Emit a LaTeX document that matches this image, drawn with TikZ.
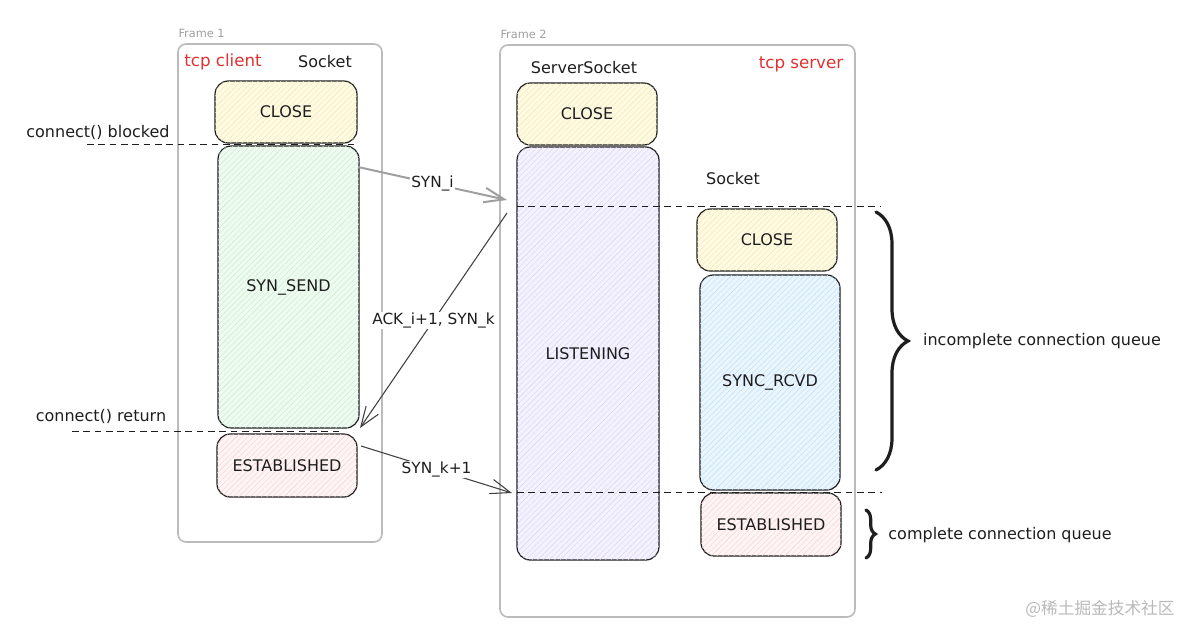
\documentclass[tikz,border=0pt]{standalone}
\usepackage{fontspec}
\setmainfont{DejaVu Sans}
\newfontfamily\cjk{Noto Sans CJK SC}
\usepackage{xcolor}
\usepackage{tikz}
\usetikzlibrary{arrows.meta,decorations.pathreplacing,patterns.meta}
\definecolor{ink}{HTML}{1E1E1E}
\definecolor{tcpred}{HTML}{E03131}
\definecolor{framegray}{HTML}{BBBBBB}
\definecolor{yfill}{HTML}{FFFBE3}
\definecolor{yhatch}{HTML}{F2E6B4}
\definecolor{gfill}{HTML}{EFFBF1}
\definecolor{ghatch}{HTML}{C5EDCC}
\definecolor{rfill}{HTML}{FFF5F5}
\definecolor{rhatch}{HTML}{F6D0D0}
\definecolor{pfill}{HTML}{F5F2FF}
\definecolor{phatch}{HTML}{D9CFF7}
\definecolor{bfill}{HTML}{EAF6FF}
\definecolor{bhatch}{HTML}{BBDDF5}
\newdimen\pxu \pxu=0.75pt

\begin{document}
\begin{tikzpicture}[x=0.75pt,y=-0.75pt,thick]
  % `state' is one socket state box, the colour styles add the hatching.
  % `frame' is the grey outline, `cut' the dashed time lines.
  \tikzstyle{state} = [draw=ink,line width=0.9pt,rounded corners=10pt,inner sep=0pt,text=ink,font=\fontsize{12}{14}\selectfont]
  \tikzstyle{yellow} = [state,fill=yfill,postaction={pattern={Lines[angle=45,distance=3pt,line width=0.3pt]},pattern color=yhatch}]
  \tikzstyle{green} = [state,fill=gfill,postaction={pattern={Lines[angle=45,distance=3pt,line width=0.3pt]},pattern color=ghatch}]
  \tikzstyle{red} = [state,fill=rfill,postaction={pattern={Lines[angle=45,distance=3pt,line width=0.3pt]},pattern color=rhatch}]
  \tikzstyle{purple} = [state,fill=pfill,postaction={pattern={Lines[angle=45,distance=3pt,line width=0.3pt]},pattern color=phatch}]
  \tikzstyle{blue} = [state,fill=bfill,postaction={pattern={Lines[angle=45,distance=3pt,line width=0.3pt]},pattern color=bhatch}]
  \tikzstyle{frame} = [draw=framegray,line width=1.2pt,rounded corners=6pt,inner sep=0pt]
  \tikzstyle{caption} = [text=gray!75,font=\fontsize{8.5}{10}\selectfont,anchor=west,inner sep=0pt]
  \tikzstyle{title} = [text=ink,font=\fontsize{12}{14}\selectfont,inner sep=1pt]
  \tikzstyle{cut} = [draw=ink,line width=0.7pt,dash pattern=on 5pt off 3.5pt]
  \tikzstyle{msg} = [draw=ink!85,line width=0.8pt,-{Straight Barb[length=15pt,width=11pt]}]
  \tikzstyle{msglabel} = [fill=white,text=ink,font=\fontsize{11.5}{13}\selectfont,inner sep=1pt]
  %
  \useasboundingbox (0,0) rectangle (1188,628);
  % Frames.
  \node[frame,minimum width=204\pxu,minimum height=498\pxu] (frame1) at (280,293) {};
  \node[frame,minimum width=355\pxu,minimum height=572\pxu] (frame2) at (677.5,331) {};
  \node[caption] (cap1) at (178,33) {Frame 1};
  \node[caption] (cap2) at (500,34) {Frame 2};
  % Client side.
  \node[title,text=tcpred,font=\fontsize{12.5}{14}\selectfont] (client) at (223,62) {tcp client};
  \node[title] (csock) at (325,62) {Socket};
  \node[yellow,minimum width=142\pxu,minimum height=62\pxu] (cclose) at (286,112) {CLOSE};
  \node[green,minimum width=141\pxu,minimum height=282\pxu] (csend) at (288.5,287) {SYN\_SEND};
  \node[red,minimum width=140\pxu,minimum height=63\pxu] (cest) at (287,465.5) {ESTABLISHED};
  % Server side.
  \node[title] (ssock) at (584,68) {ServerSocket};
  \node[title,text=tcpred,font=\fontsize{12.5}{14}\selectfont] (server) at (801,64) {tcp server};
  \node[yellow,minimum width=140\pxu,minimum height=62\pxu] (sclose) at (587,114) {CLOSE};
  \node[purple,minimum width=142\pxu,minimum height=413\pxu] (listen) at (588,353.5) {LISTENING};
  \node[title] (ksock) at (733,179) {Socket};
  \node[yellow,minimum width=140\pxu,minimum height=62\pxu] (kclose) at (767,240) {CLOSE};
  \node[blue,minimum width=140\pxu,minimum height=215\pxu] (krcvd) at (770,382.5) {SYNC\_RCVD};
  \node[red,minimum width=140\pxu,minimum height=63\pxu] (kest) at (771,524.5) {ESTABLISHED};
  % Time cuts.
  \coordinate (blockedL) at (87,144);   \coordinate (blockedR) at (355,144);
  \coordinate (returnL) at (72,431);    \coordinate (returnR) at (340,431);
  \coordinate (synL) at (517,206);      \coordinate (synR) at (880,206);
  \coordinate (acceptL) at (517,492);   \coordinate (acceptR) at (882,492);
  \draw[cut] (blockedL) -- (blockedR);
  \draw[cut] (returnL) -- (returnR);
  \draw[cut] (synL) -- (synR);
  \draw[cut] (acceptL) -- (acceptR);
  \node[title] (blocked) at (98,132) {connect() blocked};
  \node[title] (return) at (101,416) {connect() return};
  % Handshake.
  \coordinate (m1a) at (358,167);  \coordinate (m1b) at (507,200);
  \coordinate (m2a) at (507,213);  \coordinate (m2b) at (360,428);
  \coordinate (m3a) at (361,446);  \coordinate (m3b) at (512,493);
  \draw[msg,draw=gray!75,line width=1.5pt] (m1a) -- node[msglabel] (syni) {SYN\_i} (m1b);
  \draw[msg] (m2a) -- node[msglabel] (acki) {ACK\_i+1, SYN\_k} (m2b);
  \draw[msg] (m3a) -- node[msglabel] (synk) {SYN\_k+1} (m3b);
  % Queues.
  \coordinate (iqTop) at (876,212);  \coordinate (iqBot) at (876,470);
  \coordinate (cqTop) at (866,510);  \coordinate (cqBot) at (866,558);
  \draw[ink,line width=2.4pt,line cap=round,decorate,decoration={brace,amplitude=24pt}] (iqTop) -- (iqBot);
  \draw[ink,line width=2.4pt,line cap=round,decorate,decoration={brace,amplitude=7pt}] (cqTop) -- (cqBot);
  \node[title] (incomplete) at (1042,341) {incomplete connection queue};
  \node[title] (complete) at (1000,535) {complete connection queue};
  % Watermark.
  \node[text=gray!55,font=\cjk\fontsize{12.5}{14}\selectfont] (mark) at (1100,609) {@稀土掘金技术社区};
\end{tikzpicture}
\end{document}
